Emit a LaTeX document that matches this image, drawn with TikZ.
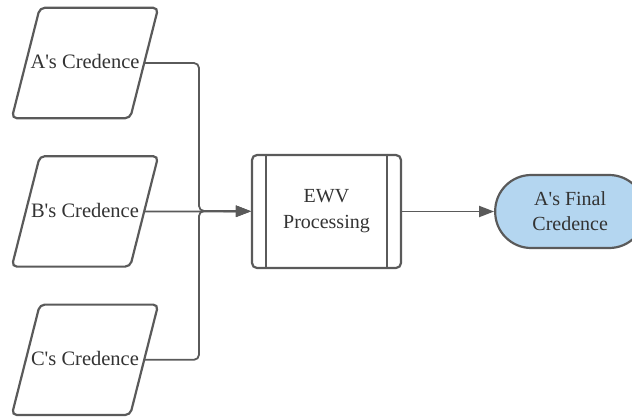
\documentclass[tikz,border=0pt]{standalone}
\usepackage{fontspec}
\setmainfont{Liberation Serif}
\usetikzlibrary{arrows.meta}
\usetikzlibrary{positioning}
\definecolor{edgegray}{RGB}{90,90,90}
\definecolor{endblue}{RGB}{180,214,240}
\tikzstyle{every node}+=[inner sep=0pt]
\tikzstyle{data} = [rectangle, minimum width=118pt, minimum height=110pt, font=\fontsize{20.5}{23}\selectfont, text=black!80]
\tikzstyle{outline} = [draw=edgegray, line width=2.2pt, rounded corners=5pt]
\tikzstyle{process} = [rectangle, draw=edgegray, line width=2.2pt, rounded corners=5pt, minimum width=149pt, minimum height=113pt, align=center, font=\fontsize{20}{26}\selectfont, text=black!80]
\tikzstyle{terminal} = [rectangle, draw=edgegray, fill=endblue, line width=2.2pt, rounded corners=36pt, minimum width=150pt, minimum height=73pt, align=center, font=\fontsize{20}{25}\selectfont, text=black!80]
\tikzstyle{line} = [draw=edgegray, line width=1.8pt, -{Triangle[length=15pt,width=11pt]}]

\begin{document}
\begin{tikzpicture}[x=1pt, y=-1pt]
            \useasboundingbox (0,0) rectangle (632,418);
            % Place nodes
            \node [data] (ca) at (85,63) {\raisebox{3pt}{A\textquotesingle s Credence}};
            \node [data, below=38pt of ca] (cb) {\raisebox{3pt}{B\textquotesingle s Credence}};
            \node [data, below=38pt of cb] (cc) {\raisebox{3pt}{C\textquotesingle s Credence}};
            \node [process] (ewv) at (326.5,211.5) {EWV\\Processing};
            \node [terminal, right=92pt of ewv] (fin) {A\textquotesingle s Final\\Credence};
            \coordinate (jn) at (199,211);
            % Slanted outlines of the inputs
            \foreach \n in {ca, cb, cc}
              \draw [outline] ([xshift=14pt]\n.north west) -- ([xshift=14pt]\n.north east)
                -- ([xshift=-14pt]\n.south east) -- ([xshift=-14pt]\n.south west) -- cycle;
            % Inner bars of the process box
            \draw [edgegray, line width=2.2pt] ([xshift=15pt]ewv.north west) -- ([xshift=15pt]ewv.south west);
            \draw [edgegray, line width=2.2pt] ([xshift=-15pt]ewv.north east) -- ([xshift=-15pt]ewv.south east);
            % Draw edges
            \path [line, rounded corners=5pt] (ca) -| (jn) -- (ewv);
            \path [line, rounded corners=5pt] (cc) -| (jn) -- (ewv);
            \path [line] (cb) -- (ewv);
            \path [line] (ewv) -- (fin);
\end{tikzpicture}
\end{document}
